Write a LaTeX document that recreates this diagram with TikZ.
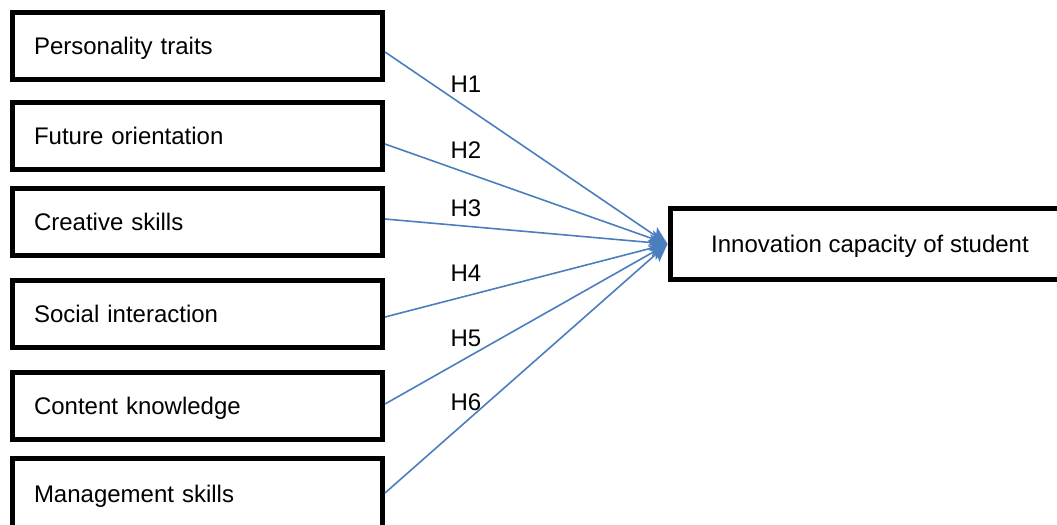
\documentclass[tikz,border=0pt]{standalone}
\usepackage{fontspec}
\setmainfont{Liberation Sans}
\usetikzlibrary{arrows.meta}
\definecolor{linkblue}{RGB}{74,126,190}

\begin{document}
\begin{tikzpicture}[x=0.5pt,y=-0.5pt]
            \tikzstyle{every node}=[font=\fontsize{12}{14}\selectfont];
            \tikzstyle{factor}=[draw, line width=2.5pt, minimum height=33.5pt, inner xsep=10.75pt, text width=163.5pt, align=left, text height=9pt, text depth=1pt];
            \tikzstyle{result}=[draw, line width=2.5pt, minimum width=200pt, minimum height=35.5pt, text height=9pt, text depth=1pt];
            \tikzstyle{link}=[linkblue, line width=0.8pt, -{Stealth[length=9pt,width=8pt,inset=2pt]}];
            \clip (0,0) rectangle (1057,525);
            % factors
            \node[factor] (traits) at (197.5,46) {Personality traits};
            \node[factor] (future) at (197.5,136) {Future orientation};
            \node[factor] (creative) at (197.5,222) {Creative skills};
            \node[factor] (social) at (197.5,314) {Social interaction};
            \node[factor] (content) at (197.5,406) {Content knowledge};
            \node[factor, minimum height=36pt] (manage) at (197.5,494) {Management skills};
            % outcome
            \node[result] (innov) at (870,244) {Innovation capacity of student};
            % hypotheses
            \draw[link] ([yshift=-3pt]traits.east) -- (innov.west);
            \draw[link] ([yshift=-4pt]future.east) -- (innov.west);
            \draw[link] ([yshift=1.5pt]creative.east) -- (innov.west);
            \draw[link] ([yshift=-1.5pt]social.east) -- (innov.west);
            \draw[link] ([yshift=1pt]content.east) -- (innov.west);
            \draw[link] ([yshift=0.5pt]manage.east) -- (innov.west);
            \node (h1) at (466,84) {H1};
            \node (h2) at (466,150) {H2};
            \node (h3) at (466,208) {H3};
            \node (h4) at (466,273) {H4};
            \node (h5) at (466,338) {H5};
            \node (h6) at (466,402) {H6};
\end{tikzpicture}
\end{document}
